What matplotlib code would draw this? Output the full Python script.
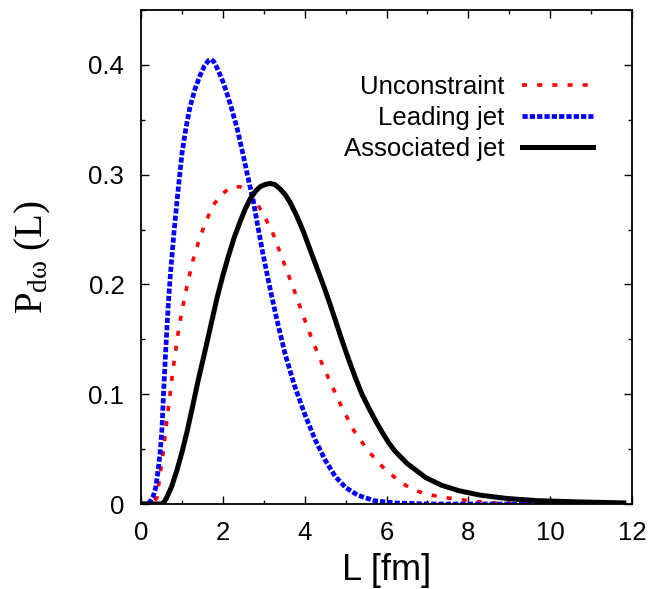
import matplotlib
matplotlib.use("Agg")
import matplotlib.pyplot as plt
from matplotlib.ticker import MultipleLocator

# ---- data ----
lead_x = [0, 0.15, 0.22, 0.29, 0.36, 0.42, 0.47, 0.51, 0.55, 0.6, 0.66, 0.72, 0.8, 0.88, 1.0,
          1.1, 1.2, 1.32, 1.44, 1.55, 1.65, 1.71, 1.78, 1.85, 1.92, 2.0, 2.1, 2.2, 2.35, 2.49,
          2.6, 2.74, 2.86, 2.98, 3.15, 3.32, 3.52, 3.75, 4.0, 4.25, 4.5, 4.75, 5.0, 5.3, 5.7,
          6.2, 7.0, 8.0, 9.0, 10.0, 11.0, 11.8]
lead_y = [0, 0, 0.002, 0.006, 0.015, 0.031, 0.048, 0.067, 0.1, 0.137, 0.178, 0.21, 0.245, 0.276, 0.319,
          0.343, 0.362, 0.378, 0.39, 0.399, 0.404, 0.405, 0.403, 0.398, 0.392, 0.385, 0.374, 0.362, 0.342, 0.319,
          0.3, 0.277, 0.252, 0.228, 0.197, 0.168, 0.137, 0.108, 0.082, 0.059, 0.04, 0.025, 0.015, 0.008, 0.003,
          0.001, 0, 0, 0, 0, 0, 0]

unc_x = [0, 0.2, 0.3, 0.39, 0.46, 0.55, 0.63, 0.71, 0.78, 0.9, 1.0, 1.12, 1.27, 1.4, 1.55,
         1.69, 1.8, 1.95, 2.13, 2.3, 2.42, 2.55, 2.67, 2.8, 2.91, 3.07, 3.23, 3.47, 3.72, 3.96,
         4.2, 4.4, 4.6, 4.91, 5.2, 5.56, 5.9, 6.3, 6.6, 6.96, 7.4, 7.8, 8.5, 9.5, 10.5, 11.8]
unc_y = [0, 0, 0.001, 0.006, 0.025, 0.049, 0.076, 0.1, 0.122, 0.154, 0.176, 0.198, 0.222, 0.238, 0.254,
         0.266, 0.274, 0.281, 0.287, 0.289, 0.289, 0.287, 0.283, 0.276, 0.269, 0.258, 0.246, 0.222, 0.197, 0.172,
         0.148, 0.13, 0.113, 0.088, 0.067, 0.048, 0.034, 0.021, 0.014, 0.009, 0.006, 0.004, 0.001, 0, 0, 0]

ass_x = [0, 0.3, 0.5, 0.57, 0.63, 0.75, 0.88, 1.0, 1.12, 1.25, 1.4, 1.55, 1.69, 1.86, 2.0,
         2.13, 2.28, 2.42, 2.55, 2.67, 2.8, 2.91, 3.03, 3.15, 3.27, 3.4, 3.52, 3.64, 3.8, 3.96,
         4.13, 4.3, 4.46, 4.62, 4.78, 4.94, 5.1, 5.25, 5.4, 5.56, 5.73, 5.9, 6.05, 6.21, 6.5,
         6.96, 7.35, 7.78, 8.3, 8.95, 9.7, 10.6, 11.8]
ass_y = [0, 0, 0, 0.002, 0.006, 0.016, 0.031, 0.047, 0.065, 0.087, 0.113, 0.137, 0.16, 0.188, 0.208,
         0.225, 0.243, 0.257, 0.269, 0.278, 0.285, 0.289, 0.291, 0.292, 0.291, 0.287, 0.282, 0.275, 0.263, 0.249,
         0.232, 0.215, 0.199, 0.182, 0.164, 0.146, 0.129, 0.114, 0.1, 0.088, 0.076, 0.065, 0.056, 0.048, 0.037,
         0.024, 0.017, 0.012, 0.008, 0.005, 0.003, 0.002, 0.001]

labels = ["Unconstraint", "Leading jet", "Associated jet"]
x_ticks = [0, 2, 4, 6, 8, 10, 12]
y_ticks = [0, 0.1, 0.2, 0.3, 0.4]
y_tick_labels = ["0", "0.1", "0.2", "0.3", "0.4"]

plt.rcParams['font.family'] = ['Liberation Sans', 'DejaVu Sans']
plt.rcParams['mathtext.fontset'] = 'custom'
plt.rcParams['mathtext.rm'] = 'Liberation Serif'
plt.rcParams['mathtext.it'] = 'Liberation Serif:italic'

fig = plt.figure(figsize=(6.53, 5.89), dpi=100)
ax = fig.add_axes([141/653, 1 - 504/589, (632 - 141)/653, (504 - 10)/589])

ax.plot(unc_x, unc_y, color='#ff0000', lw=2.6, dashes=(1.4, 2.8), label=labels[0])
ax.plot(lead_x, lead_y, color='#0000ff', lw=3.4, dashes=(1.1, 0.45), label=labels[1])
ax.plot(ass_x, ass_y, color='black', lw=3.6, label=labels[2])

ax.set_xlim(0, 12)
ax.set_ylim(0, 0.45)
ax.set_xticks(x_ticks)
ax.set_xticklabels([str(v) for v in x_ticks])
ax.set_yticks(y_ticks)
ax.set_yticklabels(y_tick_labels)
ax.xaxis.set_minor_locator(MultipleLocator(1))
ax.yaxis.set_minor_locator(MultipleLocator(0.05))
ax.tick_params(which='both', direction='in', top=True, right=True, width=1.0)
ax.tick_params(which='major', length=6)
ax.tick_params(which='minor', length=3)
ax.tick_params(axis='x', which='major', labelsize=18.5, pad=12)
ax.tick_params(axis='y', which='major', labelsize=18.5, pad=12)
for s in ax.spines.values():
    s.set_linewidth(1.3)

ax.set_xlabel("L [fm]", fontsize=26, labelpad=6)
ax.set_ylabel(r"$\mathrm{P}_{\mathrm{dω}}\ \mathrm{(L)}$", fontsize=28)
ax.yaxis.set_label_coords(-0.18, 0.5)

ax.legend(loc='upper right', bbox_to_anchor=((593 - 141)/491, (504 - 75)/494),
          frameon=False, markerfirst=False, fontsize=18.5, handlelength=2.75,
          handletextpad=0.7, labelspacing=0.27, borderpad=0, borderaxespad=0)

fig.savefig("out.png", dpi=100)
